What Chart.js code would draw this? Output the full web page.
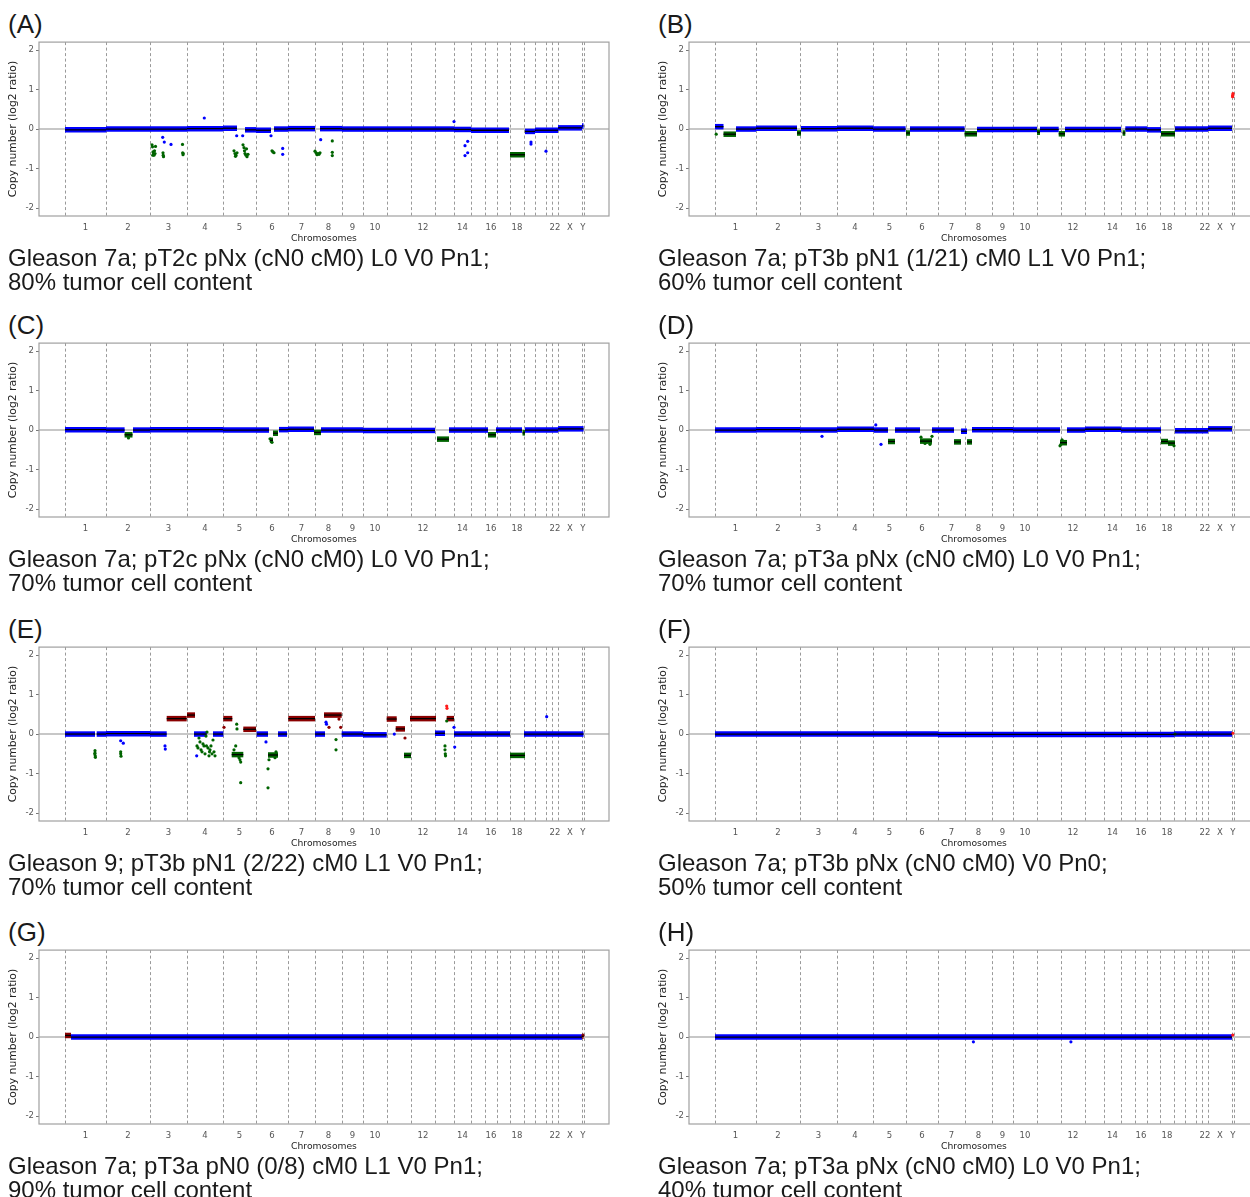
<!DOCTYPE html>
<html><head><meta charset="utf-8">
<script src="https://cdn.jsdelivr.net/npm/chart.js@4.4.0/dist/chart.umd.min.js"></script>
<style>
html,body{margin:0;padding:0;background:#fff;}
body{width:1250px;height:1197px;overflow:hidden;position:relative;}
.panel{position:absolute;width:650px;height:300px;}
.lab{position:absolute;left:8px;top:8px;font:400 26px 'Liberation Sans',Arial,sans-serif;color:#1a1a1a;line-height:32px;white-space:nowrap}
.cap{position:absolute;left:8px;top:246px;font:400 24px 'Liberation Sans',Arial,sans-serif;line-height:24px;color:#1a1a1a;white-space:nowrap}
canvas{position:absolute;left:0;top:35px;}
</style></head>
<body>
<script>
// chromosome layout (genome position units, ordered bins)
const chromBounds = [0,410,850,1220,1580,1910,2230,2500,2770,2980,3220,3460,3700,3890,4060,4200,4320,4450,4590,4700,4810,4870,4930,5170,5185];
const chromLabels = ['1','2','3','4','5','6','7','8','9','10','','12','','14','','16','','18','','','','22','X','Y'];
const yTicks = [-2,-1,0,1,2];
const panelLetters = ['(A)','(B)','(C)','(D)','(E)','(F)','(G)','(H)'];
const captionLine1 = [
  'Gleason 7a; pT2c pNx (cN0 cM0) L0 V0 Pn1;',
  'Gleason 7a; pT3b pN1 (1/21) cM0 L1 V0 Pn1;',
  'Gleason 7a; pT2c pNx (cN0 cM0) L0 V0 Pn1;',
  'Gleason 7a; pT3a pNx (cN0 cM0) L0 V0 Pn1;',
  'Gleason 9; pT3b pN1 (2/22) cM0 L1 V0 Pn1;',
  'Gleason 7a; pT3b pNx (cN0 cM0) V0 Pn0;',
  'Gleason 7a; pT3a pN0 (0/8) cM0 L1 V0 Pn1;',
  'Gleason 7a; pT3a pNx (cN0 cM0) L0 V0 Pn1;'
];
const captionLine2 = ['80% tumor cell content','60% tumor cell content','70% tumor cell content','70% tumor cell content','70% tumor cell content','50% tumor cell content','90% tumor cell content','40% tumor cell content'];

// segments: [start, end, log2 ratio, class]  n=neutral, l=loss, g=gain
const segA = [[0,410,-0.02,'n'],[410,850,0.0,'n'],[850,1220,0.0,'n'],[1220,1580,0.01,'n'],[1580,1720,0.02,'n'],[1800,1910,-0.02,'n'],[1910,2060,-0.03,'n'],[2090,2230,0.0,'n'],[2230,2500,0.01,'n'],[2550,2770,0.01,'n'],[2770,2980,0.0,'n'],[2980,3220,0.0,'n'],[3220,3460,0.0,'n'],[3460,3700,0.0,'n'],[3700,3890,0.0,'n'],[3890,4060,-0.01,'n'],[4060,4440,-0.03,'n'],[4450,4600,-0.65,'l'],[4600,4700,-0.06,'n'],[4700,4930,-0.03,'n'],[4930,5170,0.03,'n'],[5170,5185,0.08,'n']];
const dotsA = [[870,-0.40,'l'],[875,-0.45,'l'],[880,-0.58,'l'],[885,-0.63,'l'],[890,-0.66,'l'],[895,-0.55,'l'],[878,-0.66,'l'],[900,-0.62,'l'],[905,-0.44,'l'],[980,-0.6,'l'],[982,-0.66,'l'],[985,-0.7,'l'],[1175,-0.39,'l'],[1177,-0.6,'l'],[1180,-0.65,'l'],[1182,-0.62,'l'],[977,-0.21,'n'],[993,-0.33,'n'],[1060,-0.39,'n'],[1393,0.28,'n'],[1690,-0.55,'l'],[1700,-0.62,'l'],[1710,-0.66,'l'],[1720,-0.6,'l'],[1705,-0.69,'l'],[1780,-0.4,'l'],[1790,-0.47,'l'],[1800,-0.62,'l'],[1810,-0.66,'l'],[1820,-0.7,'l'],[1830,-0.64,'l'],[1795,-0.55,'l'],[1815,-0.5,'l'],[1717,-0.17,'n'],[1777,-0.17,'n'],[2070,-0.55,'l'],[2080,-0.58,'l'],[2090,-0.6,'l'],[2060,-0.17,'n'],[2177,-0.49,'n'],[2177,-0.64,'n'],[2500,-0.56,'l'],[2510,-0.6,'l'],[2520,-0.65,'l'],[2530,-0.62,'l'],[2540,-0.64,'l'],[2550,-0.6,'l'],[2557,-0.27,'n'],[2673,-0.3,'l'],[2673,-0.59,'l'],[2673,-0.67,'l'],[3890,0.19,'n'],[4000,-0.42,'n'],[4000,-0.67,'n'],[4027,-0.31,'n'],[4027,-0.6,'n'],[4660,-0.33,'n'],[4660,-0.38,'n'],[4810,-0.56,'n']];

const segB = [[0,85,0.06,'n'],[85,210,-0.13,'l'],[210,410,0.0,'n'],[410,820,0.02,'n'],[820,860,-0.1,'l'],[860,1220,0.01,'n'],[1220,1580,0.02,'n'],[1580,1906,0.0,'n'],[1910,1950,-0.1,'l'],[1950,2230,0.0,'n'],[2230,2496,0.0,'n'],[2496,2620,-0.12,'l'],[2620,2980,-0.01,'n'],[2980,3220,-0.01,'n'],[3220,3250,-0.08,'l'],[3250,3437,-0.01,'n'],[3437,3500,-0.12,'l'],[3500,3700,-0.01,'n'],[3700,4060,-0.01,'n'],[4076,4103,-0.1,'l'],[4103,4320,0.0,'n'],[4320,4460,-0.02,'n'],[4460,4600,-0.12,'l'],[4600,4930,0.0,'n'],[4930,5170,0.02,'n']];
const dotsB = [[12,-0.13,'l'],[5176,0.82,'r'],[5178,0.86,'r'],[5180,0.9,'r'],[5177,0.84,'r']];

const segC = [[0,410,0.01,'n'],[410,596,0.0,'n'],[596,675,-0.12,'l'],[680,850,0.0,'n'],[850,1220,0.01,'n'],[1220,1580,0.01,'n'],[1580,1910,0.0,'n'],[1910,2040,0.0,'n'],[2050,2080,-0.26,'l'],[2080,2130,-0.08,'l'],[2140,2230,0.01,'n'],[2230,2490,0.02,'n'],[2490,2560,-0.06,'l'],[2560,2980,0.0,'n'],[2980,3460,-0.01,'n'],[3460,3700,-0.01,'n'],[3720,3840,-0.23,'l'],[3840,4060,0.0,'n'],[4060,4230,0.0,'n'],[4230,4310,-0.12,'l'],[4310,4570,0.0,'n'],[4575,4600,-0.07,'l'],[4600,4930,0.0,'n'],[4930,5185,0.03,'n']];
const dotsC = [[635,-0.2,'l'],[2050,-0.22,'l'],[2060,-0.28,'l'],[2070,-0.31,'l']];

const segD = [[0,410,0.0,'n'],[410,850,0.01,'n'],[850,1220,0.0,'n'],[1220,1590,0.02,'n'],[1590,1730,0.0,'n'],[1730,1800,-0.29,'l'],[1800,2050,0.0,'n'],[2050,2170,-0.28,'l'],[2170,2390,0.0,'n'],[2390,2460,-0.3,'l'],[2460,2520,-0.03,'n'],[2520,2570,-0.3,'l'],[2570,2980,0.01,'n'],[2980,3450,0.0,'n'],[3450,3520,-0.32,'l'],[3520,3700,0.0,'n'],[3700,4060,0.02,'n'],[4060,4460,0.0,'n'],[4460,4530,-0.29,'l'],[4530,4600,-0.33,'l'],[4600,4930,-0.02,'n'],[4930,5170,0.03,'n']];
const dotsD = [[1660,-0.36,'n'],[1608,0.13,'n'],[1070,-0.16,'n'],[3450,-0.4,'l'],[3460,-0.36,'l'],[3470,-0.25,'l'],[3480,-0.28,'l'],[2060,-0.18,'l'],[2100,-0.34,'l'],[2150,-0.36,'l'],[2170,-0.16,'l'],[4590,-0.4,'l']];

const segE = [[0,300,0.0,'n'],[317,410,0.0,'n'],[410,850,0.01,'n'],[850,1017,0.0,'n'],[1017,1217,0.39,'g'],[1220,1300,0.48,'g'],[1290,1417,0.0,'n'],[1480,1583,0.0,'n'],[1583,1673,0.39,'g'],[1667,1783,-0.52,'l'],[1783,1910,0.12,'g'],[1917,2030,0.0,'n'],[2030,2130,-0.53,'l'],[2130,2220,0.0,'n'],[2233,2500,0.39,'g'],[2500,2600,0.0,'n'],[2590,2767,0.48,'g'],[2767,2980,0.0,'n'],[2980,3217,-0.02,'n'],[3217,3317,0.38,'g'],[3307,3400,0.13,'g'],[3390,3460,-0.54,'l'],[3450,3710,0.39,'g'],[3700,3800,0.02,'n'],[3817,3890,0.39,'g'],[3890,4450,0.0,'n'],[4450,4600,-0.54,'l'],[4590,4930,0.0,'n'],[4930,5185,0.0,'n']];
const dotsE = [[300,-0.42,'l'],[300,-0.48,'l'],[302,-0.55,'l'],[304,-0.59,'l'],[298,-0.5,'l'],[557,-0.45,'l'],[557,-0.5,'l'],[560,-0.56,'l'],[557,-0.17,'n'],[583,-0.23,'n'],[1000,-0.3,'n'],[1003,-0.38,'n'],[1317,-0.55,'n'],[1320,-0.3,'l'],[1330,-0.35,'l'],[1340,-0.1,'l'],[1350,-0.2,'l'],[1360,-0.4,'l'],[1370,-0.45,'l'],[1380,-0.25,'l'],[1390,-0.3,'l'],[1400,-0.5,'l'],[1410,-0.05,'l'],[1420,0.05,'l'],[1430,-0.35,'l'],[1440,-0.55,'l'],[1450,-0.4,'l'],[1460,-0.3,'l'],[1470,-0.5,'l'],[1480,-0.15,'l'],[1490,-0.45,'l'],[1500,-0.55,'l'],[1445,-0.45,'l'],[1415,-0.3,'l'],[1590,0.17,'g'],[1717,0.25,'l'],[1720,0.13,'l'],[1757,-0.71,'l'],[1757,-1.23,'l'],[1707,-0.3,'l'],[1740,-0.6,'l'],[1750,-0.65,'l'],[1690,-0.4,'l'],[2030,-0.88,'l'],[2030,-1.36,'l'],[2040,-0.65,'l'],[2100,-0.6,'l'],[2110,-0.45,'l'],[2010,-0.2,'n'],[2610,0.3,'n'],[2615,0.25,'n'],[2640,0.17,'g'],[2740,0.38,'g'],[2757,0.17,'g'],[2710,-0.4,'l'],[2710,-0.14,'l'],[3400,-0.1,'g'],[3293,0.0,'n'],[3800,-0.3,'l'],[3800,-0.4,'l'],[3803,-0.5,'l'],[3805,-0.55,'l'],[3817,0.33,'l'],[3817,0.71,'r'],[3820,0.65,'r'],[3897,-0.33,'n'],[3890,0.17,'n'],[4817,0.44,'n']];

const segF = [[0,2230,0.0,'n'],[2230,4590,-0.01,'n'],[4590,5170,0.0,'n']];
const dotsF = [[5178,0.02,'r'],[4600,0.0,'l']];

const segG = [[0,60,0.04,'g'],[60,5170,0.0,'n'],[5172,5185,0.02,'g']];
const dotsG = [[20,0.06,'g'],[5180,0.04,'g']];

const segH = [[0,5170,0.0,'n']];
const dotsH = [[2584,-0.12,'n'],[3559,-0.12,'n'],[5178,0.05,'r']];

const panelSegs = [segA,segB,segC,segD,segE,segF,segG,segH];
const panelDots = [dotsA,dotsB,dotsC,dotsD,dotsE,dotsF,dotsG,dotsH];
const panelLeft = [0,650,0,650,0,650,0,650];
const panelTop = [0,0,301,301,605,605,908,908];

const COLORS = {n:'#0000ff', l:'#006400', g:'#8b0000', r:'#ff1a1a'};
const centers = chromBounds.slice(0,-1).map((b,i)=>(b+chromBounds[i+1])/2);

const decor = {
  id:'decor',
  beforeDatasetsDraw(chart){
    const {ctx, chartArea:a, scales:{x,y}} = chart;
    ctx.save();
    ctx.strokeStyle='#9a9a9a'; ctx.lineWidth=1; ctx.setLineDash([3,2.5]);
    chromBounds.forEach(b=>{ const px=Math.round(x.getPixelForValue(b))+0.5; ctx.beginPath(); ctx.moveTo(px,a.top); ctx.lineTo(px,a.bottom); ctx.stroke(); });
    ctx.setLineDash([]);
    ctx.strokeStyle='#b4b4b4'; ctx.lineWidth=1.5;
    const y0=y.getPixelForValue(0);
    ctx.beginPath(); ctx.moveTo(a.left,y0); ctx.lineTo(a.right,y0); ctx.stroke();
    ctx.restore();
  },
  afterDraw(chart){
    const {ctx, chartArea:a} = chart;
    ctx.save(); ctx.strokeStyle='#a0a0a0'; ctx.lineWidth=1.2;
    ctx.strokeRect(a.left, a.top, a.right-a.left, a.bottom-a.top);
    ctx.restore();
  }
};

const tickFont = {family:'DejaVu Sans', size:8.5};
function build(i){
  const p=document.createElement('div'); p.className='panel';
  p.style.left=panelLeft[i]+'px'; p.style.top=panelTop[i]+'px';
  const lab=document.createElement('div'); lab.className='lab'; lab.textContent=panelLetters[i]; p.appendChild(lab);
  const cv=document.createElement('canvas'); cv.width=640; cv.height=210; cv.style.width='640px'; cv.style.height='210px'; p.appendChild(cv);
  const cap=document.createElement('div'); cap.className='cap'; cap.innerHTML=captionLine1[i]+'<br>'+captionLine2[i]; p.appendChild(cap);
  document.body.appendChild(p);
  const segs=panelSegs[i], dots=panelDots[i];
  const datasets=[];
  segs.forEach(s=>datasets.push({type:'line',data:[{x:s[0],y:s[2]},{x:s[1],y:s[2]}],borderColor:COLORS[s[3]],borderWidth:5.5,borderCapStyle:'butt',pointRadius:0,order:3}));
  ['n','l','g','r'].forEach(k=>{
    const d=dots.filter(t=>t[2]===k).map(t=>({x:t[0],y:t[1]}));
    if(d.length) datasets.push({type:'scatter',data:d,pointRadius:1.6,pointBorderWidth:0,backgroundColor:COLORS[k],borderColor:COLORS[k],order:2});
  });
  segs.forEach(s=>datasets.push({type:'line',data:[{x:s[0],y:s[2]},{x:s[1],y:s[2]}],borderColor:'#000',borderWidth:1.3,pointRadius:0,order:1}));
  new Chart(cv,{
    type:'scatter',
    data:{datasets},
    options:{
      responsive:false, animation:false, devicePixelRatio:1,
      layout:{padding:{left:0,right:31,top:7,bottom:0}},
      plugins:{legend:{display:false},tooltip:{enabled:false}},
      scales:{
        x:{type:'linear',min:-260,max:5440,
          afterBuildTicks:sc=>{sc.ticks=centers.map(v=>({value:v}));},
          afterFit:sc=>{sc.height=29;},
          ticks:{autoSkip:false,maxRotation:0,padding:7,color:'#555',font:tickFont,callback:(v,idx)=>chromLabels[idx]},
          grid:{display:false,drawTicks:false},border:{display:false},
          title:{display:true,text:'Chromosomes',color:'#222',font:{family:'DejaVu Sans',size:9.2},padding:{top:0,bottom:1}}
        },
        y:{type:'linear',min:-2.2,max:2.2,
          afterBuildTicks:sc=>{sc.ticks=yTicks.map(v=>({value:v}));},
          afterFit:sc=>{sc.width=39;},
          ticks:{padding:2,color:'#555',font:tickFont,callback:v=>String(v)},
          grid:{drawOnChartArea:false,drawTicks:true,tickLength:3,color:'#777'},border:{display:false},
          title:{display:true,text:'Copy number (log2 ratio)',color:'#222',font:{family:'DejaVu Sans',size:10.8},padding:{top:7,bottom:0}}
        }
      }
    },
    plugins:[decor]
  });
}
for(let i=0;i<8;i++) build(i);
</script>
</body></html>
